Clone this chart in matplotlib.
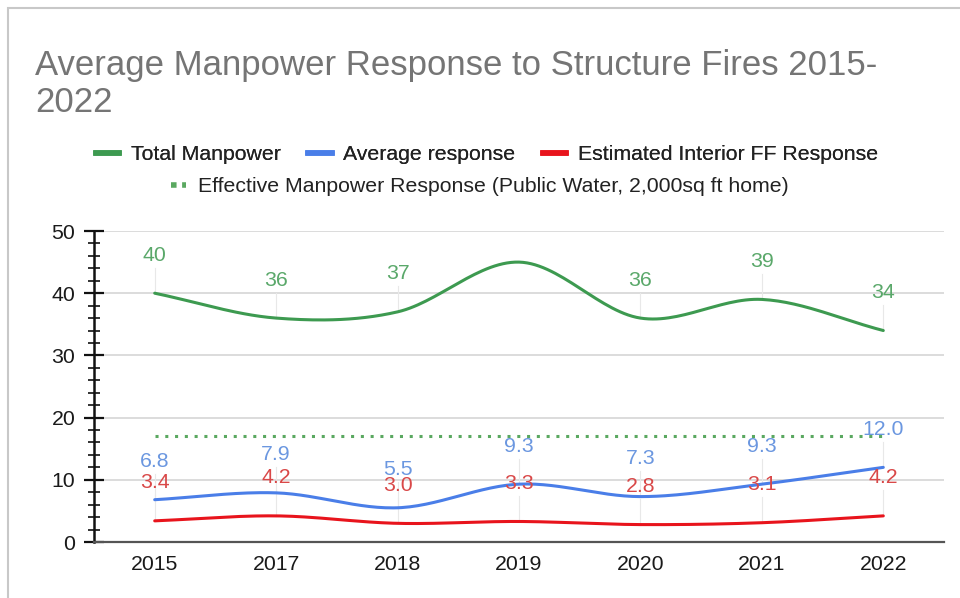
import numpy as np
import matplotlib
matplotlib.use("Agg")
import matplotlib.pyplot as plt
from matplotlib.lines import Line2D
from matplotlib.patches import Rectangle

plt.rcParams['font.family'] = ['Liberation Sans', 'DejaVu Sans']

years = ["2015", "2017", "2018", "2019", "2020", "2021", "2022"]
total_manpower = [40, 36, 37, 45, 36, 39, 34]
total_labels = ["40", "36", "37", "", "36", "39", "34"]
average_response = [6.8, 7.9, 5.5, 9.3, 7.3, 9.3, 12.0]
interior_ff = [3.4, 4.2, 3.0, 3.3, 2.8, 3.1, 4.2]
effective = [17, 17, 17, 17, 17, 17, 17]

C_GREEN = "#3d9a50"
C_BLUE = "#4a7ee8"
C_RED = "#e8141c"
C_DOT = "#5aa860"
L_GREEN = "#5aa86a"
L_BLUE = "#6b97e0"
L_RED = "#d94848"
FS = 15.3


def smooth(xs, ys, n=30):
    xs = np.asarray(xs, float)
    ys = np.asarray(ys, float)
    px = np.concatenate([[2 * xs[0] - xs[1]], xs, [2 * xs[-1] - xs[-2]]])
    py = np.concatenate([[2 * ys[0] - ys[1]], ys, [2 * ys[-1] - ys[-2]]])
    ox, oy = [], []
    t = np.linspace(0, 1, n, endpoint=False)
    for i in range(1, len(px) - 2):
        for arr, out in ((px, ox), (py, oy)):
            p0, p1, p2, p3 = arr[i - 1], arr[i], arr[i + 1], arr[i + 2]
            out.extend(0.5 * ((2 * p1) + (-p0 + p2) * t
                              + (2 * p0 - 5 * p1 + 4 * p2 - p3) * t ** 2
                              + (-p0 + 3 * p1 - 3 * p2 + p3) * t ** 3))
    ox.append(xs[-1]); oy.append(ys[-1])
    return np.array(ox), np.array(oy)


fig = plt.figure(figsize=(9.6, 5.98), dpi=100)
fig.patches.append(Rectangle((8 / 960, -0.01), 1.1, 1 - 8 / 598 + 0.01, transform=fig.transFigure,
                             fill=False, edgecolor="#c8c8c8", linewidth=1.5))

ax = fig.add_axes([94 / 960, (598 - 542) / 598, (944 - 94) / 960, (542 - 231) / 598])
x = np.arange(len(years))

for vals, col in ((total_manpower, C_GREEN), (average_response, C_BLUE), (interior_ff, C_RED)):
    sx, sy = smooth(x, vals)
    ax.plot(sx, sy, color=col, lw=2.2, solid_capstyle="round", zorder=3)

ax.plot(x, effective, color=C_DOT, lw=2.2, linestyle=(0, (1, 2.2)), zorder=3)

off = 38 * 50 / 311
for vals, labs, col in ((total_manpower, total_labels, L_GREEN),
                        (average_response, [f"{v:.1f}" for v in average_response], L_BLUE),
                        (interior_ff, [f"{v:.1f}" for v in interior_ff], L_RED)):
    for xi, v, lab in zip(x, vals, labs):
        if not lab:
            continue
        ax.plot([xi, xi], [v, v + off - 2], color="#e8e8e8", lw=0.8, zorder=1)
        ax.text(xi, v + off, lab, color=col, fontsize=FS, ha="center", va="center", zorder=4)

ax.set_xlim(-0.5, len(years) - 0.5)
ax.set_ylim(0, 50)
ax.set_xticks(x)
ax.set_xticklabels(years, fontsize=FS, color="#1a1a1a")
ax.set_yticks(np.arange(0, 51, 10))
ax.set_yticklabels([str(v) for v in range(0, 51, 10)], fontsize=FS, color="#1a1a1a")
ax.set_yticks(np.arange(0, 51, 2), minor=True)
ax.tick_params(axis="y", which="major", direction="inout", length=15, width=1.6, color="#111111", pad=6)
ax.tick_params(axis="y", which="minor", direction="inout", length=8, width=1.2, color="#111111")
ax.tick_params(axis="x", length=0, pad=9)
ax.grid(axis="y", color="#d9d9d9", lw=1.3, zorder=0)
for s in ("top", "right"):
    ax.spines[s].set_visible(False)
ax.spines["left"].set_color("#111111")
ax.spines["left"].set_linewidth(1.8)
ax.spines["bottom"].set_color("#555555")
ax.spines["bottom"].set_linewidth(1.6)
ax.set_axisbelow(True)

fig.text(35 / 960, 1 - 65 / 598, "Average Manpower Response to Structure Fires 2015-", fontsize=25,
         color="#757575", ha="left", va="center")
fig.text(35 / 960, 1 - 102 / 598, "2022", fontsize=25, color="#757575", ha="left", va="center")

h1 = [Line2D([], [], color=C_GREEN, lw=4), Line2D([], [], color=C_BLUE, lw=4), Line2D([], [], color=C_RED, lw=4)]
leg1 = fig.legend(h1, ["Total Manpower", "Average response", "Estimated Interior FF Response"],
                  loc="center", bbox_to_anchor=(487 / 960, 1 - 155 / 598), ncol=3, frameon=False,
                  fontsize=FS, handlelength=1.1, handletextpad=0.55, columnspacing=1.3)
for t in leg1.get_texts():
    t.set_color("#222222")
h2 = [Line2D([], [], color=C_DOT, lw=4, linestyle=(0, (1, 1)))]
leg2 = fig.legend(h2, ["Effective Manpower Response (Public Water, 2,000sq ft home)"],
                  loc="center", bbox_to_anchor=(480 / 960, 1 - 187 / 598), frameon=False,
                  fontsize=FS, handlelength=0.72, handletextpad=0.55)
for t in leg2.get_texts():
    t.set_color("#222222")
fig.add_artist(leg1)

fig.savefig("out.png", dpi=100, facecolor="white")
